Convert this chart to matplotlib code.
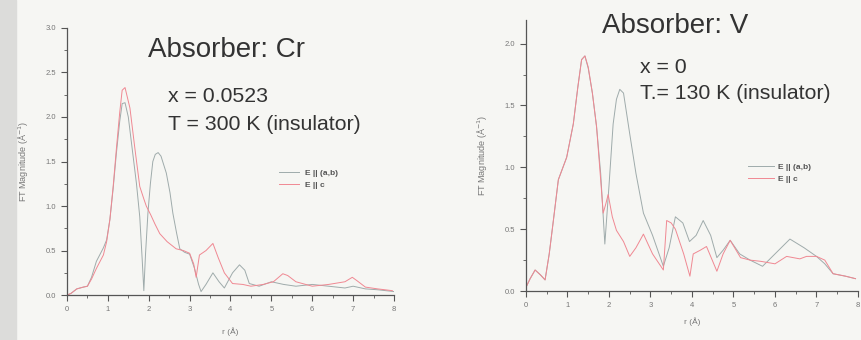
'''
FT magnitude of EXAFS for Cr and V absorbers, two polarizations
'''
import matplotlib.pyplot as plt
from matplotlib.patches import Rectangle
from matplotlib.ticker import MultipleLocator

plt.rcParams['font.family'] = ['Liberation Sans', 'DejaVu Sans']

# %%
# Cr absorber, E || (a,b)
r_cr_ab = [0.0, 0.1, 0.24, 0.4, 0.5, 0.6, 0.72, 0.89, 0.97, 1.05, 1.13, 1.21, 1.29, 1.35, 1.42,
           1.5, 1.62, 1.7, 1.78, 1.84, 1.88, 1.92, 1.98, 2.04, 2.1, 2.16, 2.23, 2.3, 2.43, 2.52,
           2.59, 2.68, 2.76, 2.88, 3.0, 3.12, 3.22, 3.28, 3.4, 3.57, 3.72, 3.85, 4.05, 4.22,
           4.35, 4.46, 4.7, 5.0, 5.3, 5.6, 6.0, 6.4, 6.8, 7.0, 7.3, 7.6, 8.0]
v_cr_ab = [0.0, 0.02, 0.07, 0.09, 0.1, 0.2, 0.38, 0.53, 0.62, 0.85, 1.2, 1.6, 1.95, 2.15, 2.16,
           2.0, 1.55, 1.25, 0.88, 0.4, 0.05, 0.45, 0.92, 1.25, 1.5, 1.58, 1.6, 1.56, 1.37, 1.15,
           0.92, 0.7, 0.52, 0.48, 0.46, 0.3, 0.12, 0.04, 0.12, 0.25, 0.15, 0.08, 0.25, 0.34,
           0.28, 0.13, 0.1, 0.15, 0.12, 0.1, 0.12, 0.1, 0.08, 0.1, 0.07, 0.06, 0.04]

# Cr absorber, E || c
r_cr_c = [0.0, 0.1, 0.24, 0.4, 0.5, 0.6, 0.72, 0.89, 0.97, 1.05, 1.13, 1.21, 1.29, 1.35, 1.42,
          1.54, 1.66, 1.78, 1.88, 1.94, 2.05, 2.15, 2.27, 2.45, 2.67, 2.85, 3.0, 3.1, 3.16,
          3.24, 3.4, 3.57, 3.7, 3.85, 4.05, 4.3, 4.5, 4.8, 5.05, 5.28, 5.4, 5.6, 6.0, 6.4,
          6.8, 6.98, 7.1, 7.3, 7.6, 7.96]
v_cr_c = [0.0, 0.02, 0.07, 0.09, 0.1, 0.18, 0.3, 0.45, 0.6, 0.85, 1.22, 1.65, 2.05, 2.3, 2.33,
          2.1, 1.65, 1.22, 1.08, 1.0, 0.9, 0.8, 0.69, 0.6, 0.52, 0.5, 0.47, 0.35, 0.2,
          0.45, 0.5, 0.58, 0.42, 0.25, 0.13, 0.12, 0.1, 0.12, 0.15, 0.24, 0.22, 0.15, 0.1, 0.12,
          0.15, 0.2, 0.16, 0.09, 0.07, 0.05]

# V absorber, E || (a,b)
r_v_ab = [0.0, 0.1, 0.22, 0.35, 0.46, 0.56, 0.66, 0.78, 0.98, 1.14, 1.25, 1.34, 1.42, 1.5,
          1.6, 1.7, 1.8, 1.9, 2.0, 2.1, 2.18, 2.26, 2.35, 2.5, 2.65, 2.83, 3.05, 3.31, 3.45,
          3.6, 3.78, 3.94, 4.1, 4.27, 4.45, 4.6, 4.75, 4.92, 5.15, 5.4, 5.7, 6.0, 6.36, 6.7,
          7.0, 7.2, 7.4, 7.7, 7.94]
v_v_ab = [0.03, 0.1, 0.17, 0.13, 0.09, 0.3, 0.57, 0.9, 1.08, 1.35, 1.65, 1.87, 1.9, 1.8,
          1.6, 1.33, 0.95, 0.38, 0.85, 1.35, 1.55, 1.63, 1.6, 1.27, 0.95, 0.63, 0.45, 0.2, 0.35,
          0.6, 0.55, 0.4, 0.45, 0.57, 0.45, 0.27, 0.33, 0.41, 0.3, 0.25, 0.2, 0.3, 0.42, 0.35,
          0.28, 0.22, 0.14, 0.12, 0.1]

# V absorber, E || c
r_v_c = [0.0, 0.1, 0.22, 0.35, 0.46, 0.56, 0.66, 0.78, 0.98, 1.14, 1.25, 1.34, 1.42, 1.5,
         1.6, 1.7, 1.82, 1.86, 1.92, 1.98, 2.08, 2.18, 2.35, 2.5, 2.65, 2.83, 3.05, 3.31,
         3.39, 3.5, 3.6, 3.8, 3.95, 4.03, 4.2, 4.35, 4.6, 4.75, 4.92, 5.17, 5.4, 5.66, 6.0,
         6.28, 6.6, 6.76, 7.0, 7.2, 7.4, 7.7, 7.94]
v_v_c = [0.03, 0.1, 0.17, 0.13, 0.09, 0.3, 0.57, 0.9, 1.08, 1.35, 1.65, 1.87, 1.9, 1.81,
         1.6, 1.33, 0.81, 0.63, 0.7, 0.78, 0.6, 0.49, 0.4, 0.28, 0.35, 0.46, 0.3, 0.17,
         0.57, 0.55, 0.5, 0.3, 0.12, 0.3, 0.33, 0.36, 0.16, 0.3, 0.41, 0.27, 0.25, 0.24, 0.22,
         0.28, 0.26, 0.28, 0.28, 0.25, 0.14, 0.12, 0.1]

# %%
col_ab = '#9fabab'
col_c = '#f08892'
txt_col = '#333333'
tick_col = '#777777'

fig = plt.figure(figsize=(8.61, 3.4), dpi=100, facecolor='#f6f6f3')
# darker page edge on the left
fig.patches.append(Rectangle((0, 0), 0.019, 1, transform=fig.transFigure,
                             color='#dcdcda', zorder=-5))

ax1 = fig.add_axes([0.0778, 0.132, 0.3798, 0.786])
ax2 = fig.add_axes([0.6109, 0.144, 0.3856, 0.797])


def style_ax(ax, ymax, ymajor, yminor, xpad):
    ax.set_facecolor('none')
    ax.set_xlim(0, 8)
    ax.set_ylim(0, ymax)
    for s in ['top', 'right']:
        ax.spines[s].set_visible(False)
    for s in ['left', 'bottom']:
        ax.spines[s].set_color('#555555')
        ax.spines[s].set_linewidth(0.9)
    ax.xaxis.set_major_locator(MultipleLocator(1))
    ax.xaxis.set_minor_locator(MultipleLocator(0.5))
    ax.yaxis.set_major_locator(MultipleLocator(ymajor))
    ax.yaxis.set_minor_locator(MultipleLocator(yminor))
    ax.tick_params(which='major', length=4, width=0.8, color='#555555',
                   labelsize=5.5, labelcolor=tick_col, pad=4)
    ax.tick_params(which='minor', length=2, width=0.6, color='#555555')
    ax.yaxis.set_major_formatter(plt.FormatStrFormatter('%.1f'))
    ax.set_xlabel('r (Å)', fontsize=6, color=tick_col, labelpad=xpad)
    ax.set_ylabel('FT Magnitude (Å$^{-1}$)', fontsize=6.5, color=tick_col, labelpad=10)


style_ax(ax1, 3.0, 0.5, 0.25, 10)
style_ax(ax2, 2.19, 0.5, 0.25, 6)

ax1.plot(r_cr_ab, v_cr_ab, color=col_ab, lw=0.7, label='E || (a,b)')
ax1.plot(r_cr_c, v_cr_c, color=col_c, lw=0.7, label='E || c')
ax2.plot(r_v_ab, v_v_ab, color=col_ab, lw=0.7, label='E || (a,b)')
ax2.plot(r_v_c, v_v_c, color=col_c, lw=0.7, label='E || c')

leg_kw = dict(frameon=False, fontsize=6, labelspacing=0.5, loc='upper left')
l1 = ax1.legend(bbox_to_anchor=(0.625, 0.5), handlelength=2.4, handletextpad=0.7, **leg_kw)
l2 = ax2.legend(bbox_to_anchor=(0.645, 0.5), handlelength=3.2, handletextpad=0.4, **leg_kw)
for leg in [l1, l2]:
    for t in leg.get_texts():
        t.set_color('#555555')
        t.set_fontweight('bold')

# annotations
fig.text(148 / 861, 1 - 57 / 340, 'Absorber: Cr', fontsize=20, color=txt_col, va='baseline')
fig.text(168 / 861, 1 - 102 / 340, 'x = 0.0523', fontsize=15.3, color=txt_col, va='baseline')
fig.text(168 / 861, 1 - 130 / 340, 'T = 300 K (insulator)', fontsize=15.3, color=txt_col,
         va='baseline')
fig.text(602 / 861, 1 - 33 / 340, 'Absorber: V', fontsize=20, color=txt_col, va='baseline')
fig.text(640 / 861, 1 - 73 / 340, 'x = 0', fontsize=15.3, color=txt_col, va='baseline')
fig.text(640 / 861, 1 - 99 / 340, 'T.= 130 K (insulator)', fontsize=15.3, color=txt_col,
         va='baseline')

fig.savefig('out.png', dpi=100, facecolor=fig.get_facecolor())
